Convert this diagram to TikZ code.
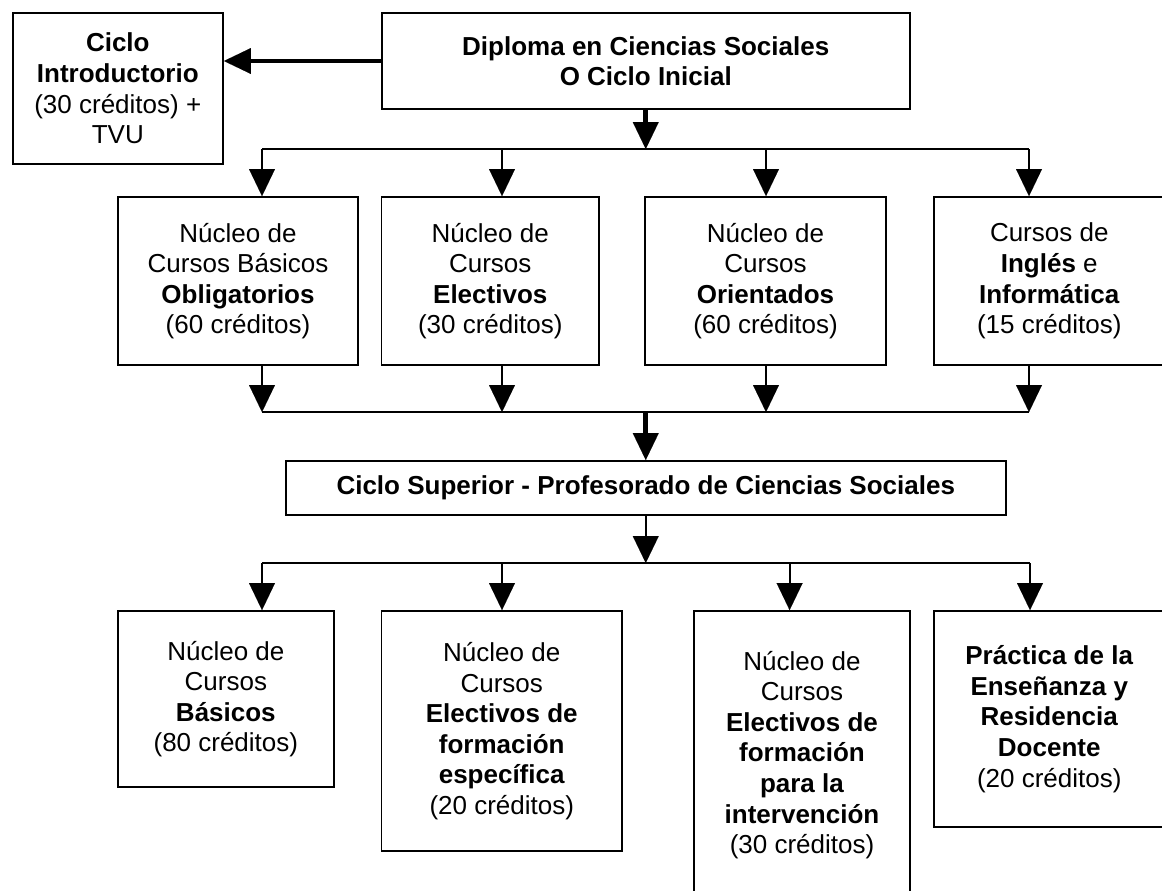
\documentclass[tikz,border=0pt]{standalone}
\usepackage{fontspec}
\setmainfont{Liberation Sans}
\usetikzlibrary{arrows.meta}

\begin{document}
\begin{tikzpicture}[
      x=0.02cm, y=-0.02cm,
      caja/.style  ={rectangle, draw, line width=1.1pt, inner sep=0pt, align=center,
                     font=\fontsize{14.8}{17.4}\selectfont},
      fila/.style  ={caja, minimum height=3.36cm},
      linea/.style ={line width=1.1pt},
      grueso/.style={line width=2.8pt},
      >={Triangle[length=0.54cm, width=0.52cm, line width=0.01pt]}
    ]
    \useasboundingbox (0,0) rectangle (1162,890);
    \fill[white] (0,0) rectangle (1162,890);
    \clip (0,0) rectangle (1162,890);

    % Ciclo inicial
    \node[caja, minimum width=10.57cm, minimum height=1.92cm] (dip) at (645.75,61)
      {\textbf{Diploma en Ciencias Sociales}\\\textbf{O Ciclo Inicial}};
    \node[caja, minimum width=4.21cm, minimum height=3.02cm] (intro) at (117.8,88.5)
      {\textbf{Ciclo}\\\textbf{Introductorio}\\(30 créditos) +\\TVU};
    \draw[grueso, ->] (dip.west) -- (dip.west -| intro.east);

    % Nucleos del ciclo inicial
    \node[fila, minimum width=4.80cm] (n1) at (238,281)
      {Núcleo de\\Cursos Básicos\\\textbf{Obligatorios}\\(60 créditos)};
    \node[fila, minimum width=4.35cm] (n2) at (490.25,281)
      {Núcleo de\\Cursos\\\textbf{Electivos}\\(30 créditos)};
    \node[fila, minimum width=4.82cm] (n3) at (765.5,281)
      {Núcleo de\\Cursos\\\textbf{Orientados}\\(60 créditos)};
    \node[fila, minimum width=4.63cm] (n4) at (1049.25,281)
      {Cursos de\\\textbf{Inglés} e\\\textbf{Informática}\\(15 créditos)};

    % Ramas de arriba
    \coordinate (r0) at (645.75,149);
    \coordinate (r1) at (262,149);
    \coordinate (r2) at (502,149);
    \coordinate (r3) at (766,149);
    \coordinate (r4) at (1029,149);
    \draw[grueso, ->] (dip.south) -- (r0);
    \draw[linea] (r1) -- (r4);
    \foreach \i in {1,...,4}
      \draw[linea, ->] (r\i) -- (r\i |- n\i.north);

    % Ramas de en medio
    \coordinate (t0) at (645.75,412);
    \coordinate (t1) at (262,412);
    \coordinate (t2) at (502,412);
    \coordinate (t3) at (766,412);
    \coordinate (t4) at (1029,412);
    \foreach \i in {1,...,4}
      \draw[linea, ->] (t\i |- n\i.south) -- (t\i);
    \draw[linea] (t1) -- (t4);

    % Ciclo superior
    \node[caja, minimum width=14.41cm, minimum height=1.08cm] (sup) at (645.75,488)
      {\textbf{Ciclo Superior - Profesorado de Ciencias Sociales}};
    \draw[grueso, ->] (t0) -- (sup.north);

    % Nucleos del ciclo superior
    \node[caja, minimum width=4.31cm, minimum height=3.52cm] (c1) at (225.85,699)
      {Núcleo de\\Cursos\\\textbf{Básicos}\\(80 créditos)};
    \node[caja, minimum width=4.81cm, minimum height=4.80cm] (c2) at (501.75,731)
      {Núcleo de\\Cursos\\\textbf{Electivos de}\\\textbf{formación}\\\textbf{específica}\\(20 créditos)};
    \node[caja, minimum width=4.32cm, minimum height=5.76cm] (c3) at (802,755)
      {Núcleo de\\Cursos\\\textbf{Electivos de}\\\textbf{formación}\\\textbf{para la}\\\textbf{intervención}\\(30 créditos)};
    \node[caja, minimum width=4.63cm, minimum height=4.32cm] (c4) at (1049.25,719)
      {\textbf{Práctica de la}\\\textbf{Enseñanza y}\\\textbf{Residencia}\\\textbf{Docente}\\(20 créditos)};

    % Ramas de abajo
    \coordinate (u0) at (645.75,563);
    \coordinate (u1) at (262,563);
    \coordinate (u2) at (502,563);
    \coordinate (u3) at (789.6,563);
    \coordinate (u4) at (1030,563);
    \draw[linea, ->] (sup.south) -- (u0);
    \draw[linea] (u1) -- (u4);
    \foreach \i in {1,...,4}
      \draw[linea, ->] (u\i) -- (u\i |- c\i.north);

  \end{tikzpicture}
\end{document}
